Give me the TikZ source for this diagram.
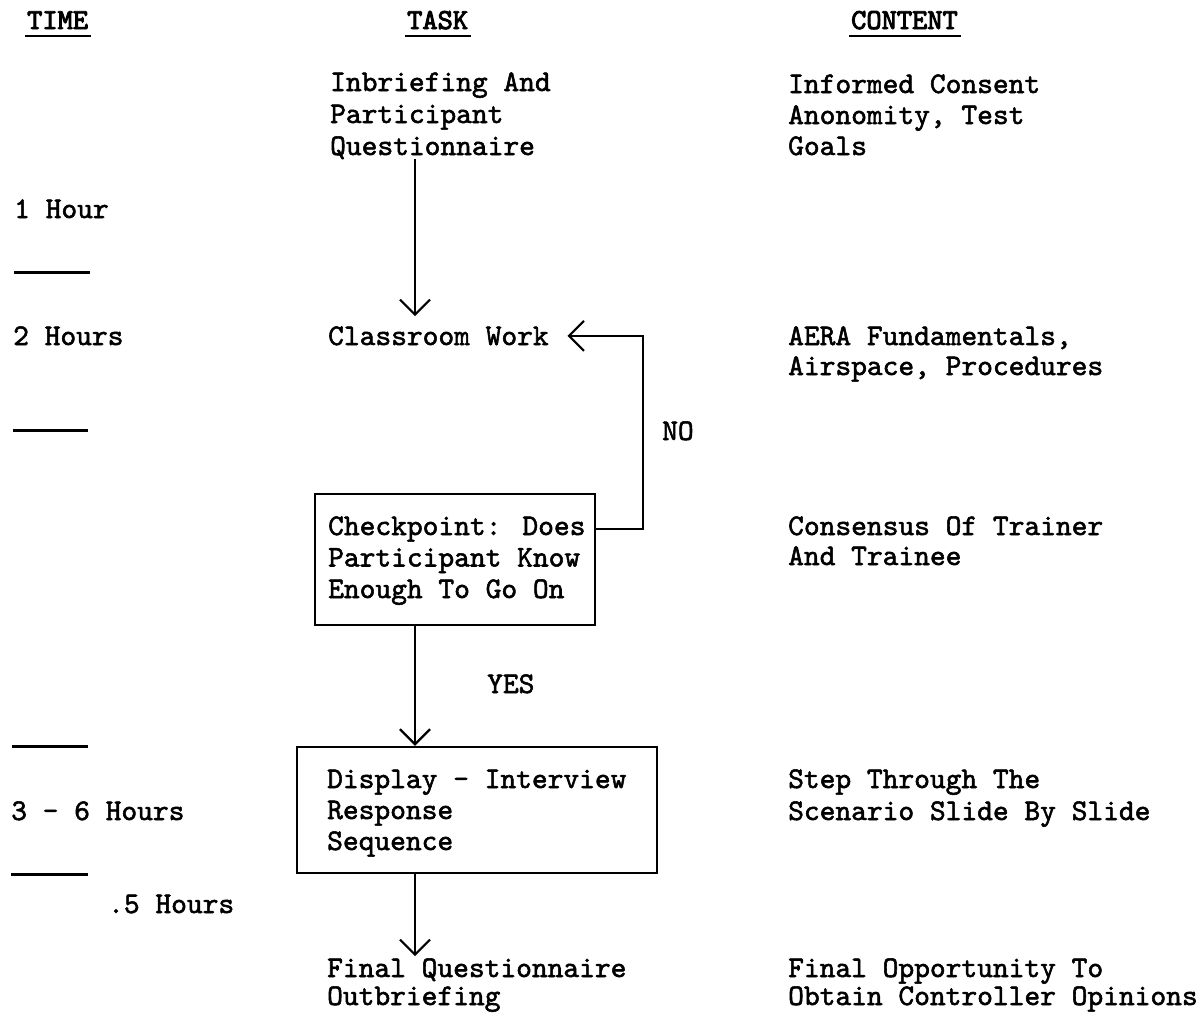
\documentclass[tikz,border=0pt]{standalone}
\usepackage{fontspec}
\newfontfamily\tw{lmmono10-regular.otf}[FakeBold=1.8]
\newfontfamily\twb{lmmono10-regular.otf}[FakeBold=3.2]
\usetikzlibrary{arrows.meta}
\begin{document}
\begin{tikzpicture}[x=1pt,y=-1pt,
  txt/.style={inner sep=0pt, anchor=base west, align=left,
    font=\tw\fontsize{30pt}{31.5pt}\selectfont},
  hdr/.style={inner sep=0pt, anchor=base west, font=\twb\fontsize{29pt}{30pt}\selectfont},
  boxst/.style={draw, line width=2.5pt, inner sep=0pt},
  arr/.style={line width=2.2pt, -{Straight Barb[length=15pt,width=30pt]}},
  sepl/.style={line width=3pt},
  uline/.style={line width=2.6pt}]
\fill[white] (0,0) rectangle (1201,1015);
\useasboundingbox (0,0) rectangle (1201,1015);

% headers
\node[hdr] (htime) at (27,29) {TIME};
\node[hdr] (htask) at (407,29) {TASK};
\node[hdr] (hcont) at (851,29) {CONTENT};
\foreach \h in {htime,htask,hcont}
  \draw[uline] ([xshift=-2pt,yshift=-7pt]\h.base west) -- ([xshift=3pt,yshift=-7pt]\h.base east);

% time column
\node[txt] (t1) at (14,218) {1 Hour};
\node[txt] (t2) at (13,345) {2 Hours};
\node[txt] (t3) at (11,820) {3 - 6 Hours};
\node[txt] (t4) at (108,913) {.5 Hours};
\draw[sepl] (14,272) -- (90,272);
\draw[sepl] (13,430) -- (88,430);
\draw[sepl] (12,746) -- (88,746);
\draw[sepl] (11,874) -- (88,874);

% task column (multi-line nodes are placed at the baseline of their last line)
\node[txt, font=\tw\fontsize{30pt}{32pt}\selectfont] (inb) at (330,155)
  {Inbriefing And\\Participant\\Questionnaire};
\node[txt] (cw) at (328,345) {Classroom Work};
\node[boxst, minimum width=280pt, minimum height=131pt] (chk) at (455,559.5) {};
\node[txt] (chkt) at (328,598) {Checkpoint: Does\\Participant Know\\Enough To Go On};
\node[boxst, minimum width=360pt, minimum height=126pt] (disp) at (477,810) {};
\node[txt, font=\tw\fontsize{30pt}{31pt}\selectfont] (dispt) at (327,850)
  {Display - Interview\\Response\\Sequence};
\node[txt, font=\tw\fontsize{30pt}{28pt}\selectfont] (fq) at (327,1005)
  {Final Questionnaire\\Outbriefing};

% content column
\node[txt, font=\tw\fontsize{30pt}{31pt}\selectfont] (c1) at (788,155) {Informed Consent\\Anonomity, Test\\Goals};
\node[txt, font=\tw\fontsize{30pt}{30pt}\selectfont] (c2) at (788,375) {AERA Fundamentals,\\Airspace, Procedures};
\node[txt, font=\tw\fontsize{30pt}{30pt}\selectfont] (c3) at (788,565) {Consensus Of Trainer\\And Trainee};
\node[txt, font=\tw\fontsize{30pt}{32pt}\selectfont] (c4) at (788,820) {Step Through The\\Scenario Slide By Slide};
\node[txt, font=\tw\fontsize{30pt}{28pt}\selectfont] (c5) at (788,1005)
  {Final Opportunity To\\Obtain Controller Opinions};

% labels
\node[txt] (no) at (662,440) {NO};
\node[txt] (yes) at (487,693) {YES};

% connectors
\coordinate (colx) at (415,0);
\draw[arr, shorten >=10pt] (inb.south -| colx) -- (cw.north -| colx);
\draw[arr] (chk.south -| colx) -- (disp.north -| colx);
\draw[arr] (disp.south -| colx) -- ([yshift=2pt]fq.north -| colx);
\coordinate (nob) at (643,529);
\coordinate (cwend) at ([xshift=18.5pt]cw.east);
\draw[arr] (nob -| chk.east) -- (nob) -- (nob |- cwend) -- (cwend);
\end{tikzpicture}
\end{document}
